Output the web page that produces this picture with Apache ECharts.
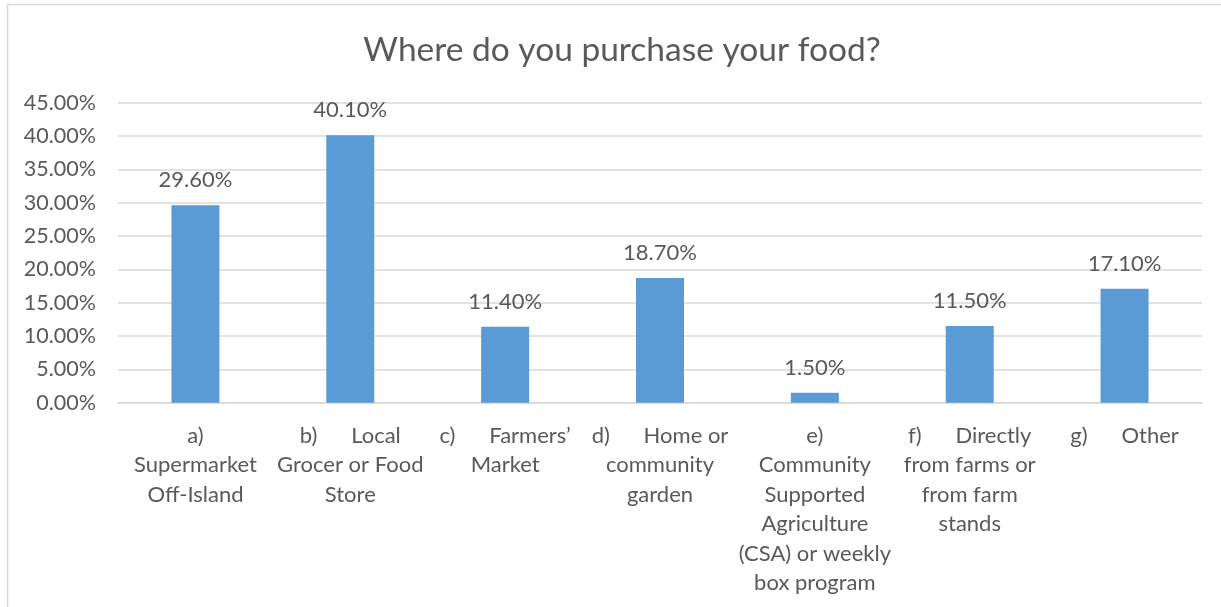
<!DOCTYPE html>
<html>
<head>
<meta charset="utf-8">
<script src="https://cdn.jsdelivr.net/npm/echarts@6/dist/echarts.min.js"></script>
<style>
  html, body { margin: 0; padding: 0; background: #fff; }
  #chart { width: 1221px; height: 607px; }
</style>
</head>
<body>
<div id="chart"></div>
<script>
// Survey answers: where respondents buy their food (share of responses, %)
const categories = [
  'a)\nSupermarket\nOff-Island',
  'b)      Local\nGrocer or Food\nStore',
  'c)      Farmers\u2019\nMarket',
  'd)      Home or\ncommunity\ngarden',
  'e)\nCommunity\nSupported\nAgriculture\n(CSA) or weekly\nbox program',
  'f)      Directly\nfrom farms or\nfrom farm\nstands',
  'g)      Other'
];
const shares = [29.6, 40.1, 11.4, 18.7, 1.5, 11.5, 17.1];

const FONT = 'Lato';
const TEXT = '#595959';
const GRID = '#D9D9D9';

const chart = echarts.init(document.getElementById('chart'));
chart.setOption({
  animation: false,
  backgroundColor: '#fff',
  textStyle: { fontFamily: FONT, color: TEXT },
  title: {
    text: 'Where do you purchase your food?',
    left: 617, top: 28, textAlign: 'center',
    textStyle: { fontFamily: FONT, fontSize: 33.5, fontWeight: 'normal', color: TEXT }
  },
  graphic: [{
    type: 'rect',
    shape: { x: 7.5, y: 4.5, width: 1300, height: 700 },
    style: { fill: 'none', stroke: GRID, lineWidth: 1.5 },
    silent: true
  }],
  grid: { left: 118, right: 19, top: 102.7, bottom: 204.3, outerBoundsMode: 'none' },
  xAxis: {
    type: 'category',
    data: categories,
    axisLine: { show: true, lineStyle: { color: GRID, width: 1.5 } },
    axisTick: { show: false },
    axisLabel: {
      interval: 0, margin: 18, color: TEXT, fontFamily: FONT, fontSize: 22,
      lineHeight: 29.5, align: 'center'
    }
  },
  yAxis: {
    type: 'value', min: 0, max: 45, interval: 5,
    axisLine: { show: false }, axisTick: { show: false },
    splitLine: { lineStyle: { color: GRID, width: 1.5 } },
    axisLabel: {
      margin: 22, color: TEXT, fontFamily: FONT, fontSize: 21.5,
      formatter: v => v.toFixed(2) + '%'
    }
  },
  series: [{
    type: 'bar',
    data: shares,
    barWidth: 48,
    itemStyle: { color: '#5B9BD5' },
    label: {
      show: true, position: 'top', distance: 14,
      color: TEXT, fontFamily: FONT, fontSize: 22,
      formatter: p => p.value.toFixed(2) + '%'
    }
  }]
});
</script>
</body>
</html>
